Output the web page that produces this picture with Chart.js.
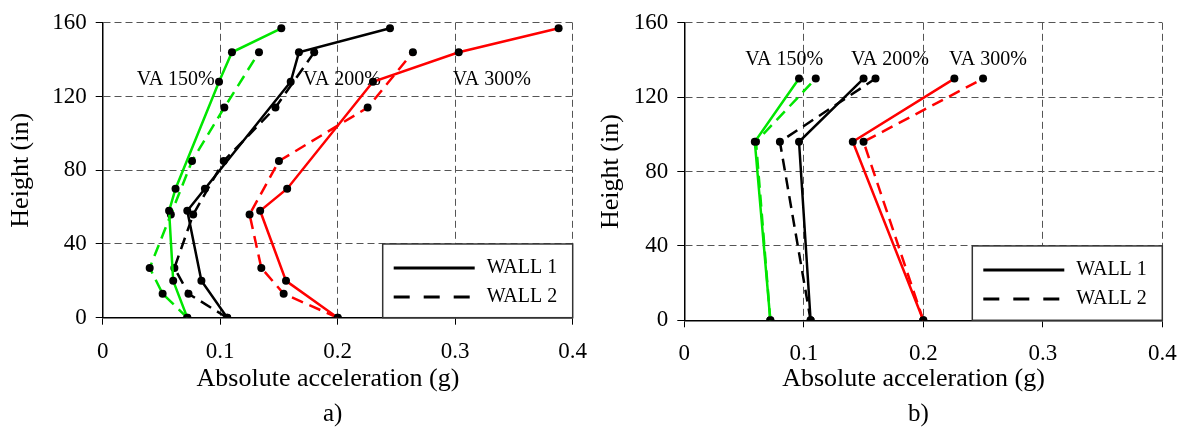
<!DOCTYPE html>
<html>
<head>
<meta charset="utf-8">
<script src="https://cdn.jsdelivr.net/npm/chart.js@4.4.0/dist/chart.umd.min.js"></script>
<style>
  html, body { margin: 0; padding: 0; background: #fff; }
  #wrap { position: relative; width: 1191px; height: 429px; overflow: hidden; }
  .panel { position: absolute; top: 0; }
</style>
</head>
<body>
<div id="wrap">
  <canvas id="chartA" class="panel" width="610" height="429" style="left:0"></canvas>
  <canvas id="chartB" class="panel" width="601" height="429" style="left:590px"></canvas>
</div>
<script>
// --- panel a) : measured heights (in) and peak absolute accelerations (g)
const heightsA1 = [0, 20, 58, 70, 128, 144, 157];
const heightsA2 = [0, 13, 27, 56, 85, 114, 144];
const accA150w1 = [0.072, 0.060, 0.0565, 0.062, 0.099, 0.110, 0.152];
const accA150w2 = [0.072, 0.051, 0.040, 0.058, 0.076, 0.1035, 0.133];
const accA200w1 = [0.106, 0.084, 0.072, 0.087, 0.160, 0.167, 0.2445];
const accA200w2 = [0.106, 0.073, 0.061, 0.077, 0.103, 0.147, 0.180];
const accA300w1 = [0.200, 0.156, 0.134, 0.157, 0.230, 0.303, 0.388];
const accA300w2 = [0.200, 0.154, 0.135, 0.125, 0.150, 0.2255, 0.264];

// --- panel b)
const heightsB = [0, 96, 130];
const accB150w1 = [0.072, 0.059, 0.096];
const accB150w2 = [0.072, 0.060, 0.110];
const accB200w1 = [0.1057, 0.096, 0.150];
const accB200w2 = [0.1057, 0.080, 0.160];
const accB300w1 = [0.200, 0.141, 0.226];
const accB300w2 = [0.200, 0.150, 0.250];

const runLabels = ['VA 150%', 'VA 200%', 'VA 300%'];
const wallLabels = ['WALL 1', 'WALL 2'];
const xTickLabels = ['0', '0.1', '0.2', '0.3', '0.4'];
const yTickLabels = ['0', '40', '80', '120', '160'];

// where the run names sit, in data units (left edge of text)
const noteXA = [0.029, 0.1705, 0.298];
const noteYA = [129, 129, 129];
const noteXB = [0.051, 0.1395, 0.2215];
const noteYB = [140, 140, 140];

const serif = "'Liberation Serif', 'Times New Roman', serif";
const GREEN = 'rgb(0,230,0)';
const RED = 'rgb(255,0,0)';
const BLACK = '#000';
const DASH = [12, 7];

function pts(xs, ys) {
  return xs.map((v, i) => ({ x: v, y: ys[i] }));
}

function line(label, xs, ys, color, dashed) {
  return {
    label: label,
    data: pts(xs, ys),
    showLine: true,
    borderColor: color,
    borderWidth: 2.5,
    borderDash: dashed ? DASH : [],
    pointRadius: 4,
    pointHoverRadius: 4,
    pointBackgroundColor: BLACK,
    pointBorderWidth: 0,
    tension: 0
  };
}

// run names, legend box and the a)/b) caption
function decor(notesX, notesY, caption) {
  return {
    id: 'decor',
    beforeDatasetsDraw(chart) {
      const { ctx, scales: { x, y } } = chart;
      ctx.save();
      ctx.font = '20px ' + serif;
      ctx.fillStyle = '#000';
      ctx.textBaseline = 'middle';
      ctx.textAlign = 'left';
      runLabels.forEach((t, i) => {
        ctx.fillText(t, x.getPixelForValue(notesX[i]), y.getPixelForValue(notesY[i]));
      });
      ctx.restore();
    },
    afterDraw(chart) {
      const { ctx, chartArea: area, scales: { y } } = chart;
      const left = area.right - 190;
      const top = y.getPixelForValue(40);
      ctx.save();
      ctx.fillStyle = '#fff';
      ctx.fillRect(left, top, area.right - left, area.bottom - top);
      ctx.strokeStyle = '#333';
      ctx.lineWidth = 1.5;
      ctx.strokeRect(left, top, area.right - left, area.bottom - top);
      ctx.strokeStyle = '#000';
      ctx.lineWidth = 3;
      ctx.font = '20px ' + serif;
      ctx.fillStyle = '#000';
      ctx.textBaseline = 'middle';
      wallLabels.forEach((t, i) => {
        const ly = top + 24 + i * 29;
        ctx.setLineDash(i === 0 ? [] : [16, 14]);
        ctx.beginPath();
        ctx.moveTo(left + 11, ly);
        ctx.lineTo(left + 92, ly);
        ctx.stroke();
        ctx.fillText(t, left + 104, ly);
      });
      ctx.setLineDash([]);
      ctx.font = '25px ' + serif;
      ctx.textAlign = 'center';
      ctx.fillText(caption, (area.left + area.right) / 2 - 5, 414);
      ctx.restore();
    }
  };
}

function makeChart(id, datasets, yWidth, xHeight, pad, notesX, notesY, caption) {
  return new Chart(document.getElementById(id), {
    type: 'scatter',
    data: { datasets: datasets },
    options: {
      responsive: false,
      animation: false,
      layout: { padding: pad },
      plugins: { legend: { display: false }, tooltip: { enabled: false } },
      scales: {
        x: {
          type: 'linear',
          min: 0,
          max: 0.4,
          afterFit: s => { s.height = xHeight; },
          afterBuildTicks: s => { s.ticks = xTickLabels.map(v => ({ value: parseFloat(v) })); },
          ticks: {
            callback: (v, i) => xTickLabels[i],
            font: { family: serif, size: 23 },
            color: '#000',
            padding: 13,
            maxRotation: 0
          },
          grid: { color: '#555', lineWidth: 1, tickLength: 7, tickColor: '#000', tickBorderDash: [] },
          border: { color: '#000', width: 1.5, dash: [7, 4] },
          title: {
            display: true,
            // trailing spaces nudge the centred title a little to the left
            text: 'Absolute acceleration (g)   ',
            font: { family: serif, size: 26 },
            color: '#000',
            padding: { top: 0, bottom: 34 }
          }
        },
        y: {
          type: 'linear',
          min: 0,
          max: 160,
          afterFit: s => { s.width = yWidth; },
          afterBuildTicks: s => { s.ticks = yTickLabels.map(v => ({ value: parseFloat(v) })); },
          ticks: {
            callback: (v, i) => yTickLabels[i],
            font: { family: serif, size: 23 },
            color: '#000',
            padding: 9
          },
          grid: { color: '#555', lineWidth: 1, tickLength: 7, tickColor: '#000', tickBorderDash: [] },
          border: { color: '#000', width: 1.5, dash: [7, 4] },
          title: {
            display: true,
            text: 'Height (in)',
            font: { family: serif, size: 26 },
            color: '#000',
            padding: { top: 6, bottom: 0 }
          }
        }
      }
    },
    plugins: [decor(notesX, notesY, caption)]
  });
}

makeChart('chartA', [
  line('VA 150% WALL 1', accA150w1, heightsA1, GREEN, false),
  line('VA 150% WALL 2', accA150w2, heightsA2, GREEN, true),
  line('VA 200% WALL 1', accA200w1, heightsA1, BLACK, false),
  line('VA 200% WALL 2', accA200w2, heightsA2, BLACK, true),
  line('VA 300% WALL 1', accA300w1, heightsA1, RED, false),
  line('VA 300% WALL 2', accA300w2, heightsA2, RED, true)
], 102.7, 111.3, { top: 12.7, right: 37.3, left: 0, bottom: 0 }, noteXA, noteYA, 'a)');

makeChart('chartB', [
  line('VA 150% WALL 1', accB150w1, heightsB, GREEN, false),
  line('VA 150% WALL 2', accB150w2, heightsB, GREEN, true),
  line('VA 200% WALL 1', accB200w1, heightsB, BLACK, false),
  line('VA 200% WALL 2', accB200w2, heightsB, BLACK, true),
  line('VA 300% WALL 1', accB300w1, heightsB, RED, false),
  line('VA 300% WALL 2', accB300w2, heightsB, RED, true)
], 94.3, 108.7, { top: 14.7, right: 28.7, left: 0, bottom: 0 }, noteXB, noteYB, 'b)');
</script>
</body>
</html>
